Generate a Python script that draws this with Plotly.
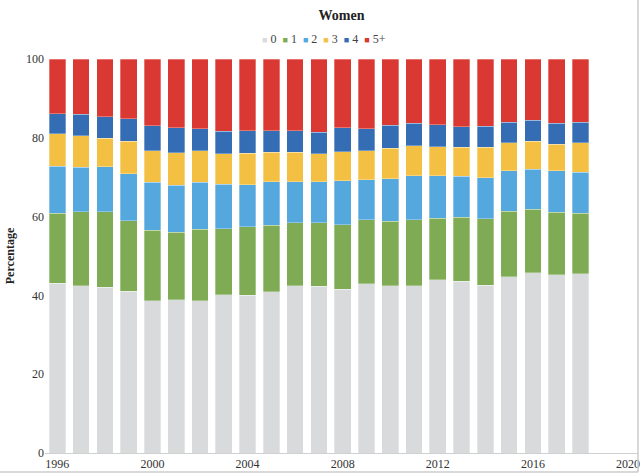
import plotly.graph_objects as go

years = list(range(1996, 2019))
categories = ["0", "1", "2", "3", "4", "5+"]
v0 = [43.1, 42.4, 42.1, 41.0, 38.6, 38.9, 38.6, 40.2, 40.0, 40.9, 42.4, 42.3, 41.6, 42.9, 42.4, 42.4, 44.0, 43.6, 42.6, 44.7, 45.7, 45.2, 45.5]
v1 = [17.8, 18.8, 19.1, 17.9, 17.9, 17.1, 18.2, 16.7, 17.4, 16.9, 16.0, 16.2, 16.3, 16.3, 16.4, 16.8, 15.6, 16.2, 16.8, 16.6, 16.2, 15.9, 15.4]
v2 = [11.9, 11.3, 11.4, 12.0, 12.2, 11.9, 11.9, 11.3, 10.7, 11.1, 10.4, 10.3, 11.2, 10.2, 10.8, 11.2, 10.8, 10.4, 10.5, 10.4, 10.1, 10.6, 10.4]
v3 = [8.2, 8.0, 7.3, 8.2, 8.0, 8.3, 8.0, 7.8, 8.0, 7.4, 7.5, 7.2, 7.4, 7.3, 7.8, 7.6, 7.3, 7.4, 7.7, 7.0, 7.1, 6.7, 7.4]
v4 = [5.1, 5.5, 5.5, 5.7, 6.4, 6.4, 5.6, 5.7, 5.7, 5.5, 5.5, 5.4, 6.0, 5.6, 5.8, 5.7, 5.6, 5.2, 5.3, 5.2, 5.4, 5.3, 5.2]
v5 = [13.9, 14.0, 14.6, 15.2, 16.9, 17.4, 17.7, 18.3, 18.2, 18.2, 18.2, 18.6, 17.5, 17.7, 16.8, 16.3, 16.7, 17.2, 17.1, 16.1, 15.5, 16.3, 16.1]
series = [v0, v1, v2, v3, v4, v5]
colors = ["#D9DADC", "#7EAB54", "#55A8DE", "#F4C043", "#346DB3", "#DA3832"]
x_ticks = [1996, 2000, 2004, 2008, 2012, 2016, 2020]

font_family = "Liberation Serif, Times New Roman, serif"

fig = go.Figure()
for name, vals, col in zip(categories, series, colors):
    fig.add_trace(go.Bar(
        x=years, y=vals, name=name, width=0.7, showlegend=False,
        marker=dict(color=col, line=dict(color="rgba(255,255,255,0.6)", width=0.5)),
    ))

# compact legend built as text
legend_text = "  ".join(
    f'<span style="color:{c};font-size:9px">■</span> {n}' for n, c in zip(categories, colors)
)

fig.update_layout(
    barmode="stack",
    width=642, height=475,
    paper_bgcolor="white", plot_bgcolor="white",
    margin=dict(l=45, r=2, t=59, b=22),
    font=dict(family=font_family, size=12, color="#333333"),
    title=dict(text="<b>Women</b>", x=0.5, xanchor="center", y=0.968, yanchor="middle",
               xref="paper", font=dict(size=14, color="#222222", family=font_family)),
    xaxis=dict(range=[1995.48, 2020.42], tickvals=x_ticks, ticktext=[str(t) for t in x_ticks],
               showgrid=False, zeroline=False, showline=True, linecolor="#D0D0D0",
               linewidth=1, ticks="", tickfont=dict(size=12, color="#333333"),
               fixedrange=True),
    yaxis=dict(range=[0, 100], tickvals=[0, 20, 40, 60, 80, 100], showgrid=False,
               zeroline=False, showline=False, ticks="", ticklen=0,
               tickfont=dict(size=12, color="#333333"),
               title=dict(text="<b>Percentage</b>", standoff=8,
                          font=dict(size=12, color="#222222", family=font_family)),
               fixedrange=True),
    bargap=0.3,
    annotations=[dict(text=legend_text, xref="paper", yref="paper",
                      x=(325 - 45) / 595, y=(453 - 39) / 394, xanchor="center", yanchor="middle",
                      showarrow=False, font=dict(size=12, color="#444444", family=font_family))],
)

# light frame at right and bottom of the picture
fig.add_shape(type="line", xref="paper", yref="paper", x0=-0.1, x1=1.0, y0=-0.048, y1=-0.048,
              line=dict(color="#CCCCCC", width=1.5))
fig.add_shape(type="line", xref="paper", yref="paper", x0=1.0, x1=1.0, y0=-0.048, y1=1.2,
              line=dict(color="#CCCCCC", width=1.5))

fig.write_html("out.html", config={"displayModeBar": False},
               post_script="document.body.style.margin='0';document.body.style.overflow='hidden';")
